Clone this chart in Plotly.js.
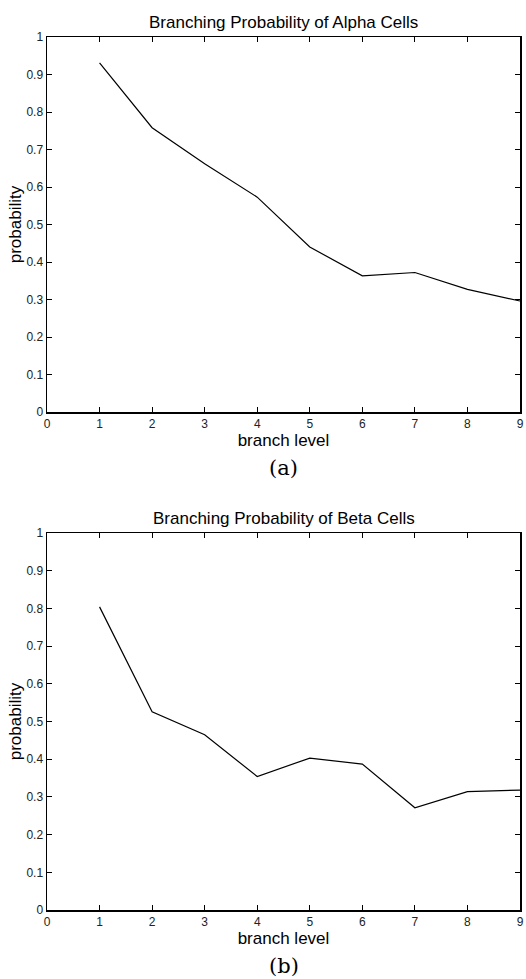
<!DOCTYPE html>
<html>
<head>
<meta charset="utf-8">
<script src="https://cdn.plot.ly/plotly-3.0.1.min.js"></script>
<style>html,body{margin:0;padding:0;background:#fff;}#chart{width:526px;height:979px;}</style>
</head>
<body>
<div id="chart"></div>
<script>
const branchLevels = [1, 2, 3, 4, 5, 6, 7, 8, 9];
const alphaProbability = [0.931, 0.758, 0.662, 0.573, 0.440, 0.363, 0.372, 0.327, 0.296];
const betaProbability = [0.804, 0.526, 0.465, 0.354, 0.403, 0.387, 0.271, 0.314, 0.318];
const xTickVals = [0, 1, 2, 3, 4, 5, 6, 7, 8, 9];
const yTickVals = [0, 0.1, 0.2, 0.3, 0.4, 0.5, 0.6, 0.7, 0.8, 0.9, 1];
const yTickText = ['0', '0.1', '0.2', '0.3', '0.4', '0.5', '0.6', '0.7', '0.8', '0.9', '1'];
const titleA = 'Branching Probability of Alpha Cells';
const titleB = 'Branching Probability of Beta Cells';
const xTitle = 'branch level';
const yTitle = 'probability';

const FONT = 'Liberation Sans, Arial, Helvetica, sans-serif';

function xAxis(anchor) {
  return {
    anchor: anchor, range: [0, 9], tickvals: xTickVals, ticktext: xTickVals.map(String),
    ticks: 'inside', ticklen: 5, tickwidth: 1, tickcolor: '#000',
    showline: true, linecolor: '#000', linewidth: 1.5, mirror: 'ticks',
    showgrid: false, zeroline: false,
    tickfont: {family: FONT, size: 12, color: '#222'},
    title: {text: xTitle, font: {family: FONT, size: 17, color: '#000'}, standoff: 1}
  };
}
function yAxis(anchor, domain) {
  return {
    anchor: anchor, domain: domain, range: [0, 1], tickvals: yTickVals, ticktext: yTickText,
    ticks: 'inside', ticklen: 5, tickwidth: 1, tickcolor: '#000',
    showline: true, linecolor: '#000', linewidth: 1.5, mirror: 'ticks',
    showgrid: false, zeroline: false,
    tickfont: {family: FONT, size: 12, color: '#222'},
    title: {text: yTitle, font: {family: FONT, size: 17, color: '#000'}, standoff: 0}
  };
}

const traces = [
  {x: branchLevels, y: alphaProbability, type: 'scatter', mode: 'lines',
   line: {color: '#000', width: 1.2}, xaxis: 'x', yaxis: 'y', showlegend: false},
  {x: branchLevels, y: betaProbability, type: 'scatter', mode: 'lines',
   line: {color: '#000', width: 1.2}, xaxis: 'x2', yaxis: 'y2', showlegend: false}
];

const H = 979;
const layout = {
  width: 526, height: 979,
  margin: {l: 47, r: 6, t: 0, b: 0},
  paper_bgcolor: '#fff', plot_bgcolor: '#fff',
  xaxis: Object.assign(xAxis('y'), {domain: [0, 1]}),
  yaxis: yAxis('x', [1 - 412 / H, 1 - 37 / H]),
  xaxis2: Object.assign(xAxis('y2'), {domain: [0, 1]}),
  yaxis2: yAxis('x2', [1 - 910 / H, 1 - 533 / H]),
  annotations: [
    {text: titleA, xref: 'paper', yref: 'paper', x: 0.5, y: 1 - 22 / H, yanchor: 'middle', xanchor: 'center',
     showarrow: false, font: {family: FONT, size: 17, color: '#000'}},
    {text: titleB, xref: 'paper', yref: 'paper', x: 0.5, y: 1 - 518 / H, yanchor: 'middle', xanchor: 'center',
     showarrow: false, font: {family: FONT, size: 17, color: '#000'}},
    {text: '(a)', xref: 'paper', yref: 'paper', x: 0.5, y: 1 - 468 / H, yanchor: 'middle', xanchor: 'center',
     showarrow: false, font: {family: 'DejaVu Serif, Liberation Serif, serif', size: 21, color: '#000'}},
    {text: '(b)', xref: 'paper', yref: 'paper', x: 0.5, y: 1 - 966 / H, yanchor: 'middle', xanchor: 'center',
     showarrow: false, font: {family: 'DejaVu Serif, Liberation Serif, serif', size: 21, color: '#000'}}
  ]
};

Plotly.newPlot('chart', traces, layout, {displayModeBar: false, staticPlot: true});
</script>
</body>
</html>
